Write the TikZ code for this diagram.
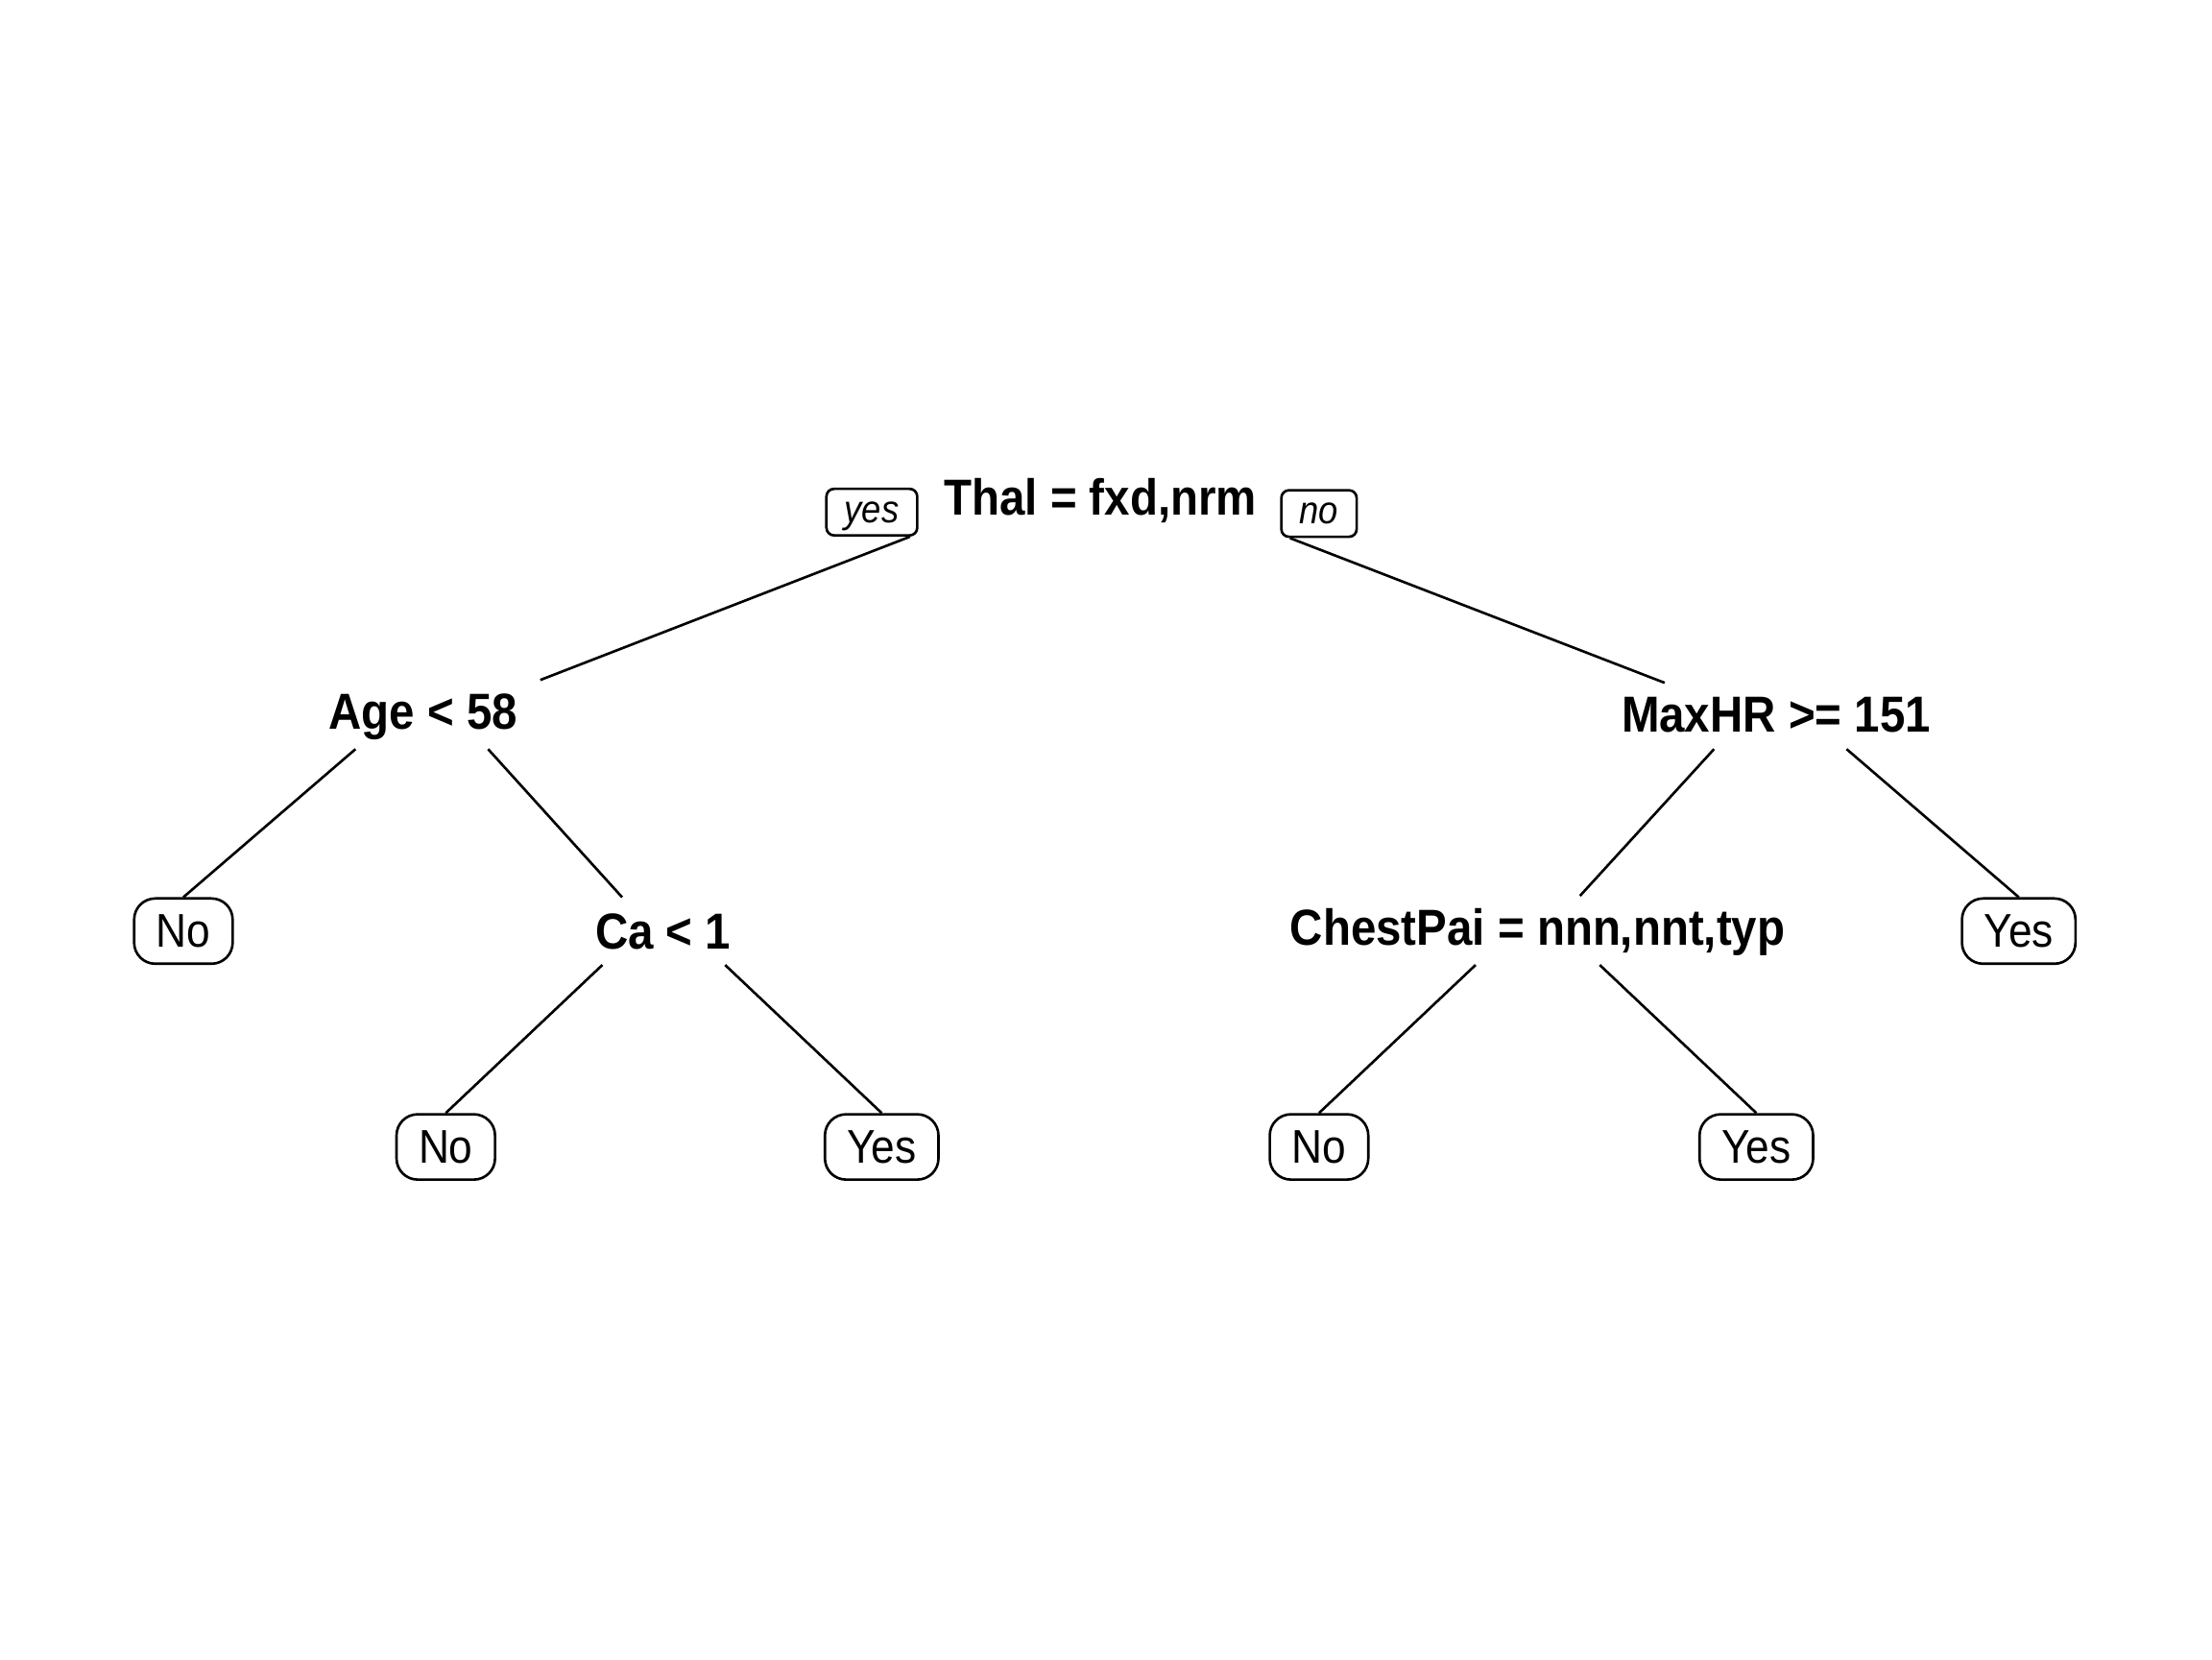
\documentclass[tikz,border=0pt]{standalone}
\usepackage{fontspec}
\setmainfont{Liberation Sans}[FakeStretch=0.9]

\begin{document}
\begin{tikzpicture}[x=0.014694cm,y=-0.014694cm,line width=0.75pt,
    split/.style={font=\fontsize{15}{18}\selectfont\bfseries,inner sep=0pt,
        text height=10.7pt,text depth=0pt},
    leaf/.style={draw,rounded corners=0.22cm,font=\fontsize{14}{17}\selectfont,
        inner xsep=0.23cm,inner ysep=0pt,minimum height=0.68cm},
    tag/.style={draw,rounded corners=0.08cm,font=\fontsize{11.5}{14}\selectfont\itshape,
        inner xsep=0.19cm,inner ysep=0pt,minimum height=0.485cm,text depth=0pt}]
    \useasboundingbox (0,0) rectangle (1568,1176);

    % splits
    \node [split] (thal)  at (780,352)  {Thal = fxd,nrm};
    \node [tag]   (yes)   at (618,363)  {yes};
    \node [tag]   (no)    at (935,364)  {no};
    \node [split] (age)   at (300,504)  {Age < 58};
    \node [split] (maxhr) at (1259,506) {MaxHR >= 151};
    \node [split] (ca)    at (470,660)  {Ca < 1};
    \node [split] (chest) at (1090,657) {ChestPai = nnn,nnt,typ};

    % leaves
    \node [leaf] (noA)  at (130,660)  {No};
    \node [leaf] (yesB) at (1431,660) {Yes};
    \node [leaf] (noC)  at (316,813)  {No};
    \node [leaf] (yesC) at (625,813)  {Yes};
    \node [leaf] (noD)  at (935,813)  {No};
    \node [leaf] (yesD) at (1245,813) {Yes};

    % branches
    \draw (yes.south east) ++(-6,0) -- ([shift={(83,-22)}]age.center);
    \draw (no.south west) ++(7,0) -- ([shift={(-79,-22)}]maxhr.center);
    \draw (age.center) ++(-48,27) -- (noA.north);
    \draw (age.center) ++(46,27) -- ([shift={(-29,-24)}]ca.center);
    \draw (maxhr.center) ++(-44,25) -- ([shift={(30,-22)}]chest.center);
    \draw (maxhr.center) ++(50,25) -- (yesB.north);
    \draw (ca.center) ++(-43,24) -- (noC.north);
    \draw (ca.center) ++(44,24) -- (yesC.north);
    \draw (chest.center) ++(-44,27) -- (noD.north);
    \draw (chest.center) ++(44,27) -- (yesD.north);
\end{tikzpicture}
\end{document}
